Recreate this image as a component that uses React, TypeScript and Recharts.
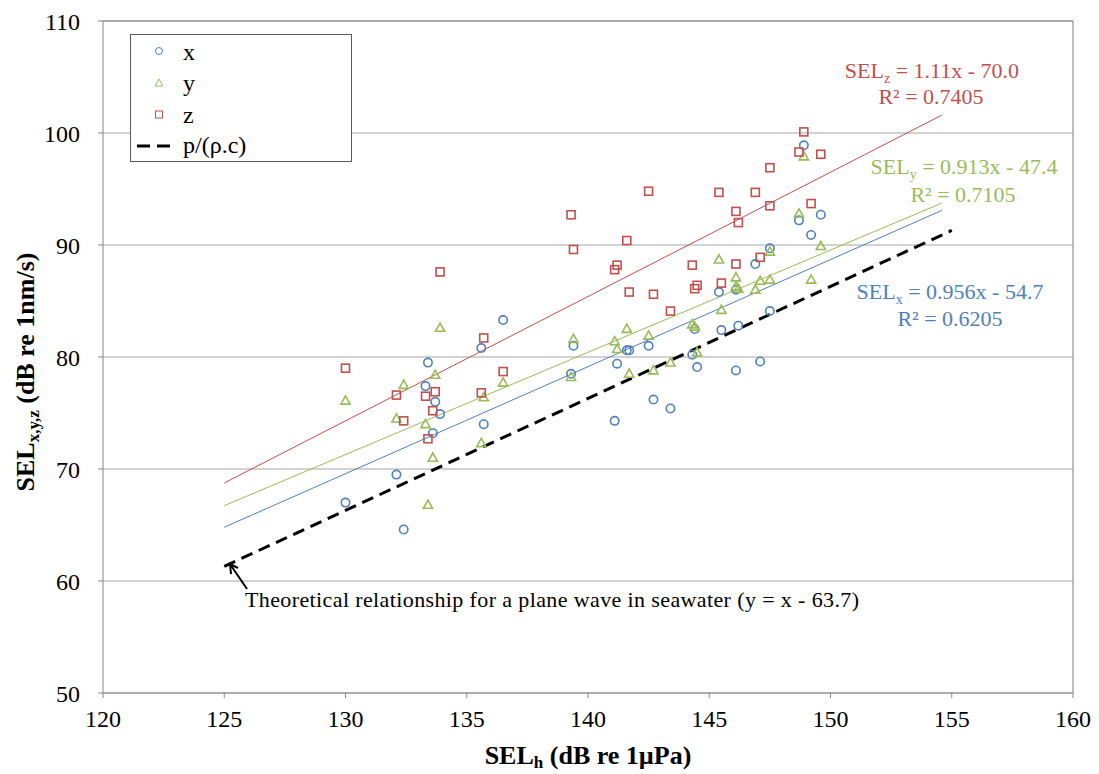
import React from 'react';
import {
  ScatterChart,
  Scatter,
  XAxis,
  YAxis,
  CartesianGrid,
  ReferenceLine,
  Legend,
  Customized,
} from 'recharts';

// ---------- data ----------
const selH = [
  130.0, 132.1, 132.4, 133.3, 133.4, 133.6, 133.7, 133.9, 135.6, 135.7, 136.5,
  139.3, 139.4, 141.1, 141.2, 141.6, 141.7, 142.5, 142.7, 143.4, 144.3, 144.4,
  144.5, 145.4, 145.5, 146.1, 146.1, 146.2, 146.9, 147.1, 147.5, 147.5, 148.7,
  148.9, 149.2, 149.6,
];
const selX = [
  67.0, 69.5, 64.6, 77.4, 79.5, 73.2, 76.0, 74.9, 80.8, 74.0, 83.3,
  78.5, 81.0, 74.3, 79.4, 80.6, 80.6, 81.0, 76.2, 75.4, 80.2, 82.5,
  79.1, 85.8, 82.4, 86.0, 78.8, 82.8, 88.3, 79.6, 89.7, 84.1, 92.2,
  98.9, 90.9, 92.7,
];
const selY = [
  76.1, 74.5, 77.5, 74.0, 66.8, 71.0, 78.4, 82.6, 72.3, 76.4, 77.7,
  78.2, 81.6, 81.4, 80.7, 82.5, 78.5, 81.9, 78.8, 79.5, 82.9, 82.7,
  80.4, 88.7, 84.2, 87.1, 86.3, 86.1, 86.0, 86.8, 89.4, 86.9, 92.8,
  97.9, 86.9, 89.9,
];
const selZ = [
  79.0, 76.6, 74.3, 76.5, 72.7, 75.2, 76.9, 87.6, 76.8, 81.7, 78.7,
  92.7, 89.6, 87.8, 88.2, 90.4, 85.8, 94.8, 85.6, 84.1, 88.2, 86.1,
  86.4, 94.7, 86.6, 93.0, 88.3, 92.0, 94.7, 88.9, 96.9, 93.5, 98.3,
  100.1, 93.7, 98.1,
];

// trendline coefficients [slope, intercept]
const trendX = [0.956, -54.7];
const trendY = [0.913, -47.4];
const trendZ = [1.11, -70.0];
const trendRange = [125, 154.6];
// theoretical relationship y = x - 63.7
const theoryOffset = -63.7;
const theoryRange = [125, 155];

const xTicks = [120, 125, 130, 135, 140, 145, 150, 155, 160];
const yTicks = [50, 60, 70, 80, 90, 100, 110];

// ---------- styling ----------
const FONT = '"Liberation Serif", "Times New Roman", serif';
const BLUE = '#4f81bd';
const GREEN = '#9bbb59';
const RED = '#c0504d';

const xData = selH.map((h, i) => ({ h, v: selX[i] }));
const yData = selH.map((h, i) => ({ h, v: selY[i] }));
const zData = selH.map((h, i) => ({ h, v: selZ[i] }));

const seg = (c: number[], r: number[]) => [
  { x: r[0], y: c[0] * r[0] + c[1] },
  { x: r[1], y: c[0] * r[1] + c[1] },
];

const CircleShape = (p: any) => (
  <circle cx={p.cx} cy={p.cy} r={4.2} fill="none" stroke={BLUE} strokeWidth={1.6} />
);
const TriangleShape = (p: any) => {
  const { cx, cy } = p;
  const pts = `${cx},${cy - 4.8} ${cx - 4.6},${cy + 3.4} ${cx + 4.6},${cy + 3.4}`;
  return <polygon points={pts} fill="none" stroke={GREEN} strokeWidth={1.6} />;
};
const SquareShape = (p: any) => (
  <rect x={p.cx - 4} y={p.cy - 4} width={8} height={8} fill="none" stroke={RED} strokeWidth={1.6} />
);

const LegendBox = () => (
  <svg width={222} height={128} style={{ display: 'block' }}>
    <rect x={0.5} y={0.5} width={221} height={127} fill="#fff" stroke="#595959" strokeWidth={1} />
    <circle cx={29} cy={17} r={3.5} fill="none" stroke={BLUE} strokeWidth={1} />
    <polygon points="29,45 25,52 33,52" fill="none" stroke={GREEN} strokeWidth={1} />
    <rect x={25.5} y={77} width={7} height={7} fill="none" stroke={RED} strokeWidth={1} />
    <line x1={7} y1={112} x2={41} y2={112} stroke="#000" strokeWidth={3} strokeDasharray="13 7" />
    <g fontFamily={FONT} fontSize={24} fill="#000">
      <text x={53} y={26}>x</text>
      <text x={53} y={57}>y</text>
      <text x={53} y={89}>z</text>
      <text x={53} y={119}>p/(ρ.c)</text>
    </g>
  </svg>
);

const Annotations = () => (
  <g fontFamily={FONT}>
    {/* regression equations */}
    <g fontSize={22} fill={RED} textAnchor="middle">
      <text x={932} y={78}>
        SEL<tspan fontSize={14} dy={5}>z</tspan>
        <tspan dy={-5}> = 1.11x - 70.0</tspan>
      </text>
      <text x={931} y={104}>R² = 0.7405</text>
    </g>
    <g fontSize={22} fill={GREEN} textAnchor="middle">
      <text x={964} y={174}>
        SEL<tspan fontSize={14} dy={5}>y</tspan>
        <tspan dy={-5}> = 0.913x - 47.4</tspan>
      </text>
      <text x={963} y={202}>R² = 0.7105</text>
    </g>
    <g fontSize={22} fill={BLUE} textAnchor="middle">
      <text x={950} y={299}>
        SEL<tspan fontSize={14} dy={5}>x</tspan>
        <tspan dy={-5}> = 0.956x - 54.7</tspan>
      </text>
      <text x={950} y={326}>R² = 0.6205</text>
    </g>
    {/* theoretical line annotation */}
    <line x1={247} y1={589} x2={230} y2={564} stroke="#000" strokeWidth={2} />
    <polyline points="231,574 230,564 238,568" fill="none" stroke="#000" strokeWidth={2} />
    <text x={245} y={607} fontSize={22} fill="#000" textLength={614} lengthAdjust="spacing">
      Theoretical relationship for a plane wave in seawater (y = x - 63.7)
    </text>
    {/* axis titles */}
    <text x={588} y={764} fontSize={26} fontWeight="bold" textAnchor="middle" fill="#000">
      SEL<tspan fontSize={17} dy={4}>h</tspan>
      <tspan dy={-4}> (dB re 1µPa)</tspan>
    </text>
    <text
      transform="translate(34,372) rotate(-90)"
      fontSize={26}
      fontWeight="bold"
      textAnchor="middle"
      fill="#000"
    >
      SEL<tspan fontSize={17} dy={5}>x,y,z</tspan>
      <tspan dy={-5}> (dB re 1nm/s)</tspan>
    </text>
  </g>
);

export default function App() {
  return (
    <div style={{ position: 'absolute', left: 0, top: 0, width: 1099, height: 774, background: '#fff' }}>
      <ScatterChart width={1099} height={774} margin={{ top: 21, right: 26, left: 0, bottom: 0 }}>
        <CartesianGrid vertical={false} stroke="#a6a6a6" />
        <XAxis
          type="number"
          dataKey="h"
          domain={[120, 160]}
          ticks={xTicks}
          allowDataOverflow
          height={81}
          tickSize={5}
          tickMargin={12}
          axisLine={{ stroke: '#868686' }}
          tickLine={{ stroke: '#868686' }}
          tick={{ fontFamily: FONT, fontSize: 24, fill: '#000' }}
        />
        <YAxis
          type="number"
          dataKey="v"
          domain={[50, 110]}
          ticks={yTicks}
          allowDataOverflow
          width={103}
          tickSize={5}
          tickMargin={18}
          axisLine={{ stroke: '#868686' }}
          tickLine={{ stroke: '#868686' }}
          tick={{ fontFamily: FONT, fontSize: 24, fill: '#000' }}
        />
        <ReferenceLine y={110} stroke="#7f7f7f" />
        <ReferenceLine x={160} stroke="#7f7f7f" />
        <ReferenceLine segment={seg(trendZ, trendRange)} stroke={RED} strokeWidth={1} />
        <ReferenceLine segment={seg(trendY, trendRange)} stroke={GREEN} strokeWidth={1} />
        <ReferenceLine segment={seg(trendX, trendRange)} stroke={BLUE} strokeWidth={1} />
        <ReferenceLine
          segment={seg([1, theoryOffset], theoryRange)}
          stroke="#000"
          strokeWidth={3}
          strokeDasharray="12 7"
        />
        <Scatter name="x" data={xData} shape={CircleShape} isAnimationActive={false} />
        <Scatter name="y" data={yData} shape={TriangleShape} isAnimationActive={false} />
        <Scatter name="z" data={zData} shape={SquareShape} isAnimationActive={false} />
        <Legend
          layout="vertical"
          align="center"
          verticalAlign="middle"
          content={() => <LegendBox />}
          wrapperStyle={{ position: 'absolute', left: 130, top: 34, width: 222, height: 128 }}
        />
        <Customized component={<Annotations />} />
      </ScatterChart>
    </div>
  );
}
